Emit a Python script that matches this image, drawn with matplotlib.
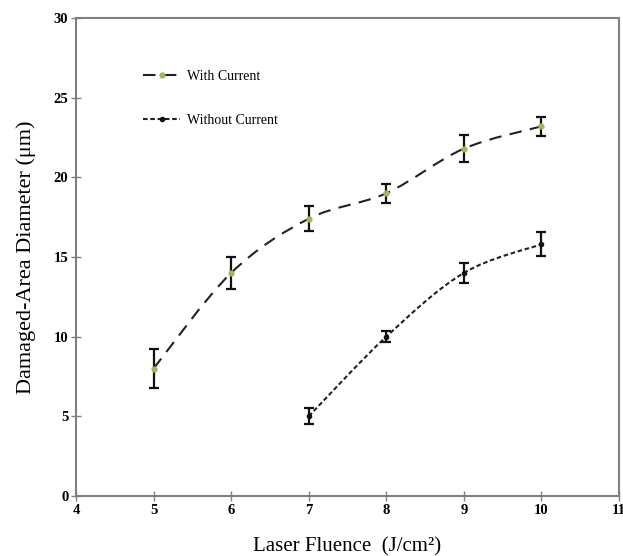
import matplotlib.pyplot as plt
import numpy as np
from matplotlib.path import Path
from matplotlib.patches import PathPatch
from matplotlib.lines import Line2D

plt.rcParams['font.family'] = ['Liberation Serif', 'DejaVu Serif']

# data
with_x = [5, 6, 7, 8, 9, 10]
with_y = [8.0, 14.0, 17.4, 19.0, 21.8, 23.2]
with_err = [1.25, 1.0, 0.8, 0.6, 0.85, 0.6]

without_x = [7, 8, 9, 10]
without_y = [5.0, 10.0, 14.0, 15.8]
without_err = [0.5, 0.35, 0.65, 0.75]

x_ticks = [4, 5, 6, 7, 8, 9, 10, 11]
y_ticks = [0, 5, 10, 15, 20, 25, 30]

spine_color = '#808080'


def smooth_path(xs, ys):
    # catmull-rom through the points, turned into cubic bezier segments
    pts = np.column_stack([xs, ys]).astype(float)
    verts = [pts[0]]
    codes = [Path.MOVETO]
    n = len(pts)
    for i in range(n - 1):
        p0 = pts[i - 1] if i > 0 else pts[i]
        p1 = pts[i]
        p2 = pts[i + 1]
        p3 = pts[i + 2] if i + 2 < n else pts[i + 1]
        c1 = p1 + (p2 - p0) / 6.0
        c2 = p2 - (p3 - p1) / 6.0
        verts += [c1, c2, p2]
        codes += [Path.CURVE4] * 3
    return Path(verts, codes)


fig = plt.figure(figsize=(6.23, 5.56), dpi=100)
ax = fig.add_axes([0.122, 0.108, 0.8716, 0.8596])

# curves
p1 = PathPatch(smooth_path(with_x, with_y), facecolor='none', edgecolor='#222222',
               lw=1.5, linestyle=(0, (6, 4)), zorder=2)
p2 = PathPatch(smooth_path(without_x, without_y), facecolor='none', edgecolor='#222222',
               lw=1.5, linestyle=(0, (2.2, 1.3)), zorder=2)
ax.add_patch(p1)
ax.add_patch(p2)

ax.errorbar(with_x, with_y, yerr=with_err, fmt='o', ms=3.5, mfc='#9bbb59', mec='#9bbb59',
            ecolor='#111111', elinewidth=1.6, capsize=3.5, capthick=1.6, zorder=3)
ax.errorbar(without_x, without_y, yerr=without_err, fmt='o', ms=3, mfc='#111111', mec='#111111',
            ecolor='#111111', elinewidth=1.6, capsize=3.5, capthick=1.6, zorder=3)

ax.set_xlim(4, 11)
ax.set_ylim(0, 30)
ax.set_xticks(x_ticks)
ax.set_yticks(y_ticks)
ax.tick_params(direction='inout', length=7, width=1, color=spine_color,
               labelsize=10.5, pad=2)
for lbl in ax.get_xticklabels() + ax.get_yticklabels():
    lbl.set_fontweight('bold')
for s in ax.spines.values():
    s.set_color(spine_color)
    s.set_linewidth(1.5)

ax.set_xlabel('Laser Fluence  (J/cm\u00b2)', fontsize=15, labelpad=15)
ax.set_ylabel('Damaged-Area Diameter (\u03bcm)', fontsize=16, labelpad=13)

h1 = Line2D([], [], color='#222222', lw=1.5, linestyle=(0, (6, 4)),
            marker='o', ms=3.5, mfc='#9bbb59', mec='#9bbb59')
h2 = Line2D([], [], color='#222222', lw=1.5, linestyle=(0, (2.2, 1.3)),
            marker='o', ms=3, mfc='#111111', mec='#111111')
ax.legend([h1, h2], ['With Current', 'Without Current'], loc='upper left',
          bbox_to_anchor=(0.1, 0.918), frameon=False, fontsize=10,
          handlelength=2.7, labelspacing=2.25, handletextpad=0.5)

plt.savefig('out.png', dpi=100)
